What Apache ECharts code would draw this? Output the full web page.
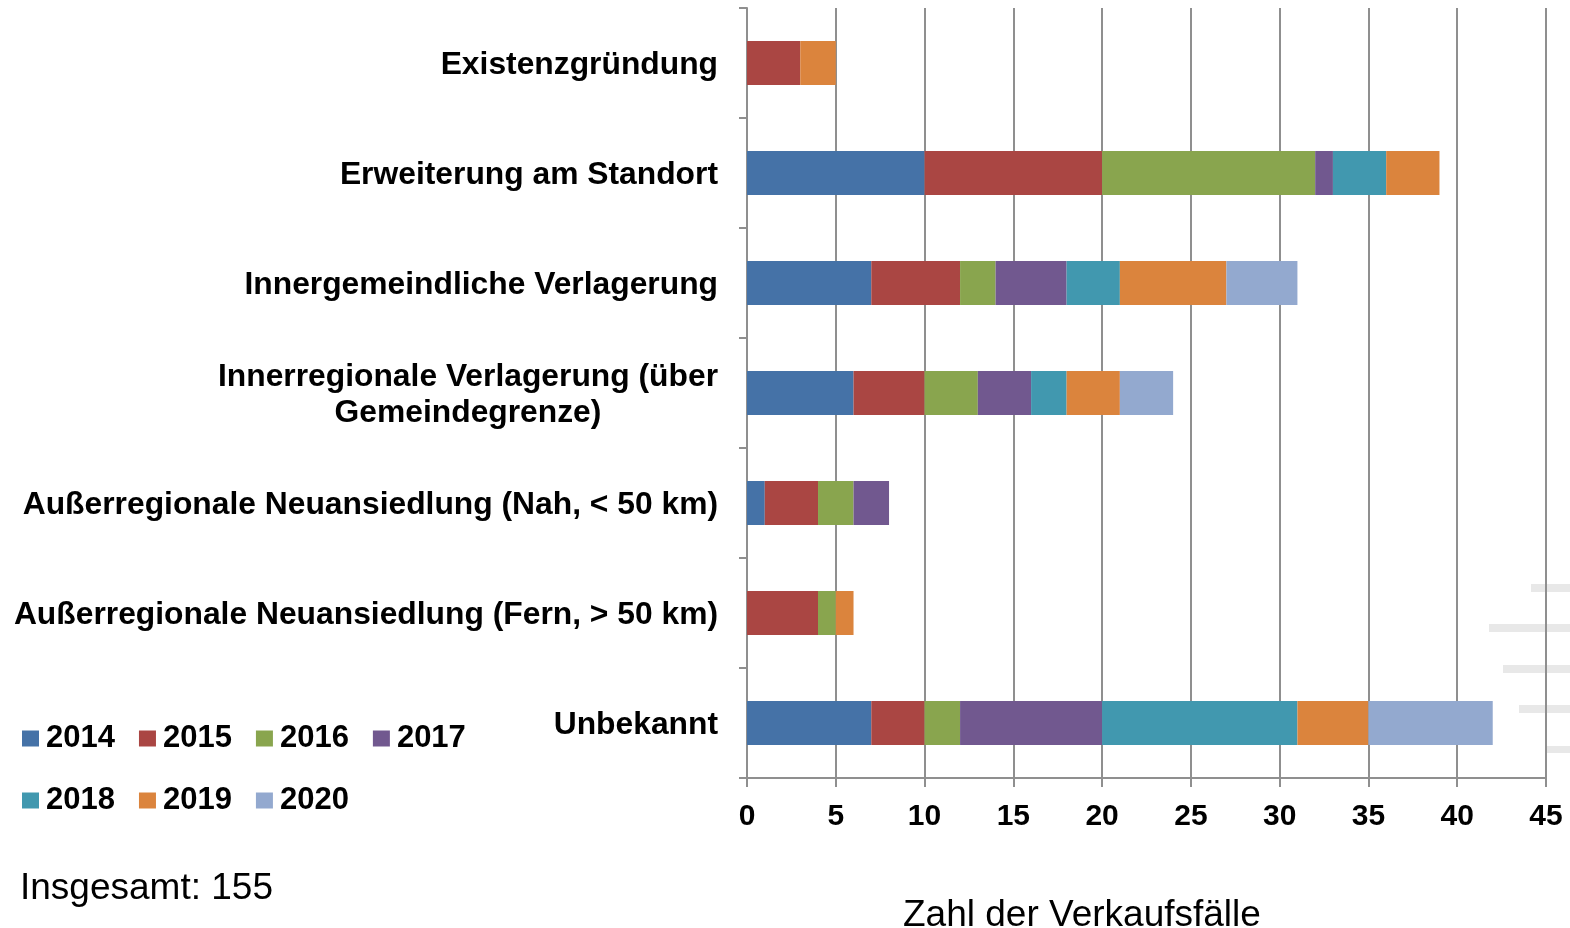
<!DOCTYPE html>
<html>
<head>
<meta charset="utf-8">
<script src="https://cdn.jsdelivr.net/npm/echarts@6/dist/echarts.min.js"></script>
<style>
  html, body { margin: 0; padding: 0; background: #ffffff; }
  #chart { width: 1570px; height: 928px; }
</style>
</head>
<body>
<div id="chart"></div>
<script>
// Categories (top to bottom)
const categories = [
  'Existenzgründung',
  'Erweiterung am Standort',
  'Innergemeindliche Verlagerung',
  'Innerregionale Verlagerung (über\nGemeindegrenze)',
  'Außerregionale Neuansiedlung (Nah, < 50 km)',
  'Außerregionale Neuansiedlung (Fern, > 50 km)',
  'Unbekannt'
];

// Series values per year, in category order
const years = ['2014', '2015', '2016', '2017', '2018', '2019', '2020'];
const v2014 = [0, 10, 7, 6, 1, 0, 7];
const v2015 = [3, 10, 5, 4, 3, 4, 3];
const v2016 = [0, 12, 2, 3, 2, 1, 2];
const v2017 = [0, 1, 4, 3, 2, 0, 8];
const v2018 = [0, 3, 3, 2, 0, 0, 11];
const v2019 = [2, 3, 6, 3, 0, 1, 4];
const v2020 = [0, 0, 4, 3, 0, 0, 7];
const seriesValues = [v2014, v2015, v2016, v2017, v2018, v2019, v2020];
const colors = ['#4572A7', '#AA4643', '#89A54E', '#71588F', '#4198AF', '#DB843D', '#93A9CF'];

const totalLabel = 'Insgesamt: 155';
const xAxisTitle = 'Zahl der Verkaufsfälle';

const FONT = '"Liberation Sans", Arial, sans-serif';
const GRID_COLOR = '#8f8f8f';

const chart = echarts.init(document.getElementById('chart'), null, { renderer: 'canvas' });

const series = years.map((y, i) => ({
  name: y,
  type: 'bar',
  stack: 'total',
  barWidth: 44,
  itemStyle: { color: colors[i] },
  data: seriesValues[i].map(v => (v === 0 ? null : v)),
  emphasis: { disabled: true }
}));

const legendCommon = {
  orient: 'horizontal',
  icon: 'rect',
  itemWidth: 17,
  itemHeight: 16,
  itemGap: 24,
  padding: 0,
  textStyle: { fontFamily: FONT, fontSize: 31, fontWeight: 'bold', color: '#000', padding: [0, 0, 0, 2] },
  selectedMode: false
};

const option = {
  backgroundColor: '#ffffff',
  animation: false,
  color: colors,
  grid: { left: 747, right: 24, top: 8, bottom: 150, containLabel: false },
  xAxis: {
    type: 'value',
    min: 0,
    max: 45,
    interval: 5,
    axisLine: { show: true, lineStyle: { color: GRID_COLOR, width: 2 } },
    axisTick: { show: true, length: 9, lineStyle: { color: GRID_COLOR, width: 2 } },
    splitLine: { show: true, lineStyle: { color: GRID_COLOR, width: 2 } },
    axisLabel: {
      margin: 24,
      fontFamily: FONT, fontSize: 30, fontWeight: 'bold', color: '#000'
    }
  },
  yAxis: {
    type: 'category',
    data: categories,
    inverse: true,
    axisLine: { show: true, lineStyle: { color: GRID_COLOR, width: 2 } },
    axisTick: { show: true, length: 8, lineStyle: { color: GRID_COLOR, width: 2 } },
    splitLine: { show: false },
    axisLabel: {
      margin: 29,
      formatter: function (val) {
        return val.split('\n').map(s => '{a|' + s + '}').join('\n');
      },
      rich: {
        a: { align: 'center', fontFamily: FONT, fontSize: 31.8, fontWeight: 'bold', color: '#000', lineHeight: 36, padding: [5, 0, 0, 0] }
      }
    }
  },
  legend: [
    Object.assign({}, legendCommon, { data: years.slice(0, 4), left: 22, top: 723 }),
    Object.assign({}, legendCommon, { data: years.slice(4), left: 22, top: 785 })
  ],
  title: [
    {
      text: totalLabel, left: 20, top: 870, padding: 0,
      textStyle: { fontFamily: FONT, fontSize: 37, fontWeight: 'normal', color: '#000' }
    },
    {
      text: xAxisTitle, left: 903, top: 897, padding: 0,
      textStyle: { fontFamily: FONT, fontSize: 37, fontWeight: 'normal', color: '#000' }
    }
  ],
  graphic: [
    { type: 'rect', z: -1, shape: { x: 1531, y: 584, width: 39, height: 8 }, style: { fill: '#e8e8e8' } },
    { type: 'rect', z: -1, shape: { x: 1489, y: 624, width: 81, height: 8 }, style: { fill: '#e8e8e8' } },
    { type: 'rect', z: -1, shape: { x: 1503, y: 665, width: 67, height: 8 }, style: { fill: '#e8e8e8' } },
    { type: 'rect', z: -1, shape: { x: 1519, y: 705, width: 51, height: 8 }, style: { fill: '#e8e8e8' } },
    { type: 'rect', z: -1, shape: { x: 1546, y: 746, width: 24, height: 7 }, style: { fill: '#e8e8e8' } }
  ],
  series: series
};

chart.setOption(option);
</script>
</body>
</html>
